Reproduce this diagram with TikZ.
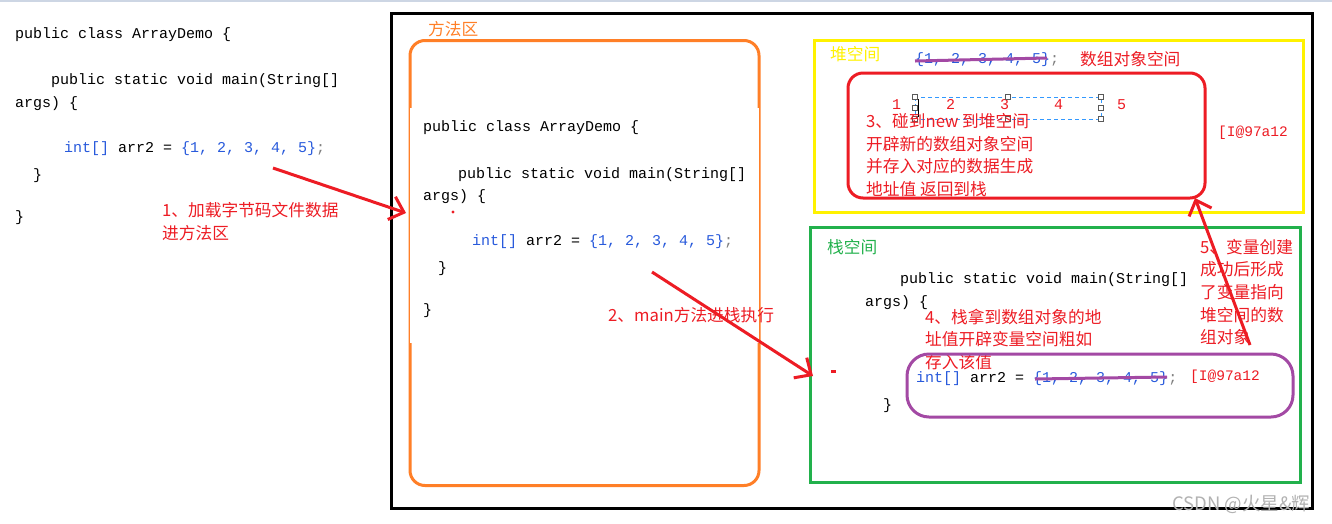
\documentclass[tikz,border=0pt]{standalone}
\usepackage{fontspec}
\setmonofont{Liberation Mono}
\newfontfamily\cjk{Noto Sans CJK SC}
\usetikzlibrary{arrows.meta}
\definecolor{pred}{RGB}{237,28,36}
\definecolor{porange}{RGB}{255,127,39}
\definecolor{pyellow}{RGB}{255,242,0}
\definecolor{pgreen}{RGB}{34,177,76}
\definecolor{ppurple}{RGB}{163,73,164}
\definecolor{cblue}{RGB}{40,90,220}
\definecolor{selblue}{RGB}{51,153,255}
\definecolor{topline}{RGB}{205,214,228}
\newcommand\myintline{{\color{cblue}int[]} arr2 = {\color{cblue}\{1, 2, 3, 4, 5\}}{\color{gray};}}
\newcommand\myarr{{\color{cblue}\{1, 2, 3, 4, 5\}}{\color{gray};}}
\tikzset{
  code/.style={anchor=west,inner sep=0pt,font=\ttfamily\fontsize{15}{15}\selectfont,text height=11pt,text depth=3pt},
  note/.style={anchor=west,inner sep=0pt,font=\cjk\fontsize{16.7}{16.7}\selectfont,text=pred,text height=13pt,text depth=2pt},
  addr/.style={code,text=pred,font=\ttfamily\fontsize{14.5}{14.5}\selectfont},
  num/.style={code,text=pred},
  title/.style={note},
  box/.style={line width=3pt,inner sep=0pt,outer sep=0pt,anchor=north west},
  redarrow/.style={draw=pred,line width=3pt,-{Straight Barb[length=13pt,width=24pt]}},
  strike/.style={draw=ppurple,line width=3pt},
  handle/.style={draw=gray!70!black,fill=white,line width=0.8pt,minimum size=4.5pt,inner sep=0pt},
}
\begin{document}
\begin{tikzpicture}[x=1pt,y=-1pt]
\useasboundingbox[fill=white] (0,0) rectangle (1332,523);
\fill[topline] (0,0) rectangle (1332,2);

% left source code
\node[code] (l1) at (15,34) {public class ArrayDemo \{};
\node[code] (l2) at (51,80) {public static void main(String[]};
\node[code] (l3) at (15,103) {args) \{};
\node[code] (l4) at (64,148) {\myintline};
\node[code] (l5) at (33,175) {\}};
\node[code] (l6) at (15,217) {\}};
\node[note] (n1a) at (162,211) {1、加载字节码文件数据};
\node[note] (n1b) at (162,234) {进方法区};

% outer black frame
\node[box,draw=black,minimum width=921pt,minimum height=495pt] (mem) at (391.5,13.5) {};

% method area
\node[box,draw=porange,rounded corners=15pt,minimum width=349pt,minimum height=445pt] (fa) at (410,40.5) {};
\fill[white] (410,108) rectangle (759,343);
\node[title,text=porange] (fat) at (428,30) {方法区};
\node[code] (m1) at (423,127) {public class ArrayDemo \{};
\node[code] (m2) at (458,174) {public static void main(String[]};
\node[code] (m3) at (423,196) {args) \{};
\node[code] (m4) at (472,241) {\myintline};
\node[code] (m5) at (438,268) {\}};
\node[code] (m6) at (423,310) {\}};
\fill[pred] (453,212) circle (1.6pt);

% heap
\node[box,draw=pyellow,minimum width=489pt,minimum height=172pt] (heap) at (814.5,40) {};
\node[title,text=pyellow] (heapt) at (830,55) {堆空间};
\node[code] (harr) at (915,59) {\myarr};
\draw[strike] (915,61) -- (1047,58);
\node[note] (hobj) at (1080,60) {数组对象空间};
\node[box,draw=pred,rounded corners=15pt,minimum width=357pt,minimum height=125pt] (obj) at (848,73) {};
\node[num] (e1) at (892,105) {1};
\node[num] (e2) at (946,105) {2};
\node[num] (e3) at (1000,105) {3};
\node[num] (e4) at (1054,105) {4};
\node[num] (e5) at (1117,105) {5};
\draw[selblue,line width=1pt,dash pattern=on 4pt off 3pt] (915,97) rectangle (1101,119);
\foreach \hx/\hy [count=\i] in {915/97,1008/97,1101/97,915/108,1101/108,915/119,1008/119,1101/119}
  \node[handle] (h\i) at (\hx,\hy) {};
\draw[black,line width=1pt] (918.5,99) -- (918.5,117);
\node[note] (n3a) at (866,122) {3、碰到new 到堆空间};
\node[note] (n3b) at (866,145) {开辟新的数组对象空间};
\node[note] (n3c) at (866,167) {并存入对应的数据生成};
\node[note] (n3d) at (866,190) {地址值 返回到栈};
\node[addr] (haddr) at (1218,132) {[I@97a12};

% stack
\node[box,draw=pgreen,minimum width=490pt,minimum height=255pt] (stack) at (810.5,227.5) {};
\node[title,text=pgreen] (stackt) at (827,248) {栈空间};
\node[code] (s1) at (900,279) {public static void main(String[]};
\node[code] (s2) at (865,302) {args) \{};
\node[note] (n4a) at (925,318) {4、栈拿到数组对象的地};
\node[note] (n4b) at (925,340) {址值开辟变量空间粗如};
\node[note] (n4c) at (925,363) {存入该值};
\node[box,draw=ppurple,rounded corners=22pt,minimum width=386pt,minimum height=63pt] (var) at (907,354) {};
\node[code] (s3) at (916,378) {\myintline};
\draw[strike] (1035,379) -- (1167,377);
\node[addr] (saddr) at (1190,376) {[I@97a12};
\node[code] (s4) at (883,405) {\}};
\fill[pred] (830.5,369.5) rectangle (835.5,372.5);
\node[note] (n5a) at (1200,248) {5、变量创建};
\node[note] (n5b) at (1200,270) {成功后形成};
\node[note] (n5c) at (1200,293) {了变量指向};
\node[note] (n5d) at (1200,316) {堆空间的数};
\node[note] (n5e) at (1200,338) {组对象};

% arrows
\coordinate (a1s) at (273,168);
\coordinate (a1e) at (406,213);
\coordinate (a2s) at (652,272);
\coordinate (a2e) at (813,376);
\coordinate (a5s) at (1250,345);
\coordinate (a5e) at (1195,198);
\draw[redarrow] (a1s) -- (a1e);
\draw[redarrow] (a2s) -- (a2e);
\draw[redarrow] (a5s) -- (a5e);
\node[note] (n2) at (608,316) {2、main方法进栈执行};

% watermark
\node[anchor=west,inner sep=0pt,font=\cjk\fontsize{18.5}{18.5}\selectfont,text=black!30] (wm) at (1172,504) {CSDN @火星\&辉};
\end{tikzpicture}
\end{document}
